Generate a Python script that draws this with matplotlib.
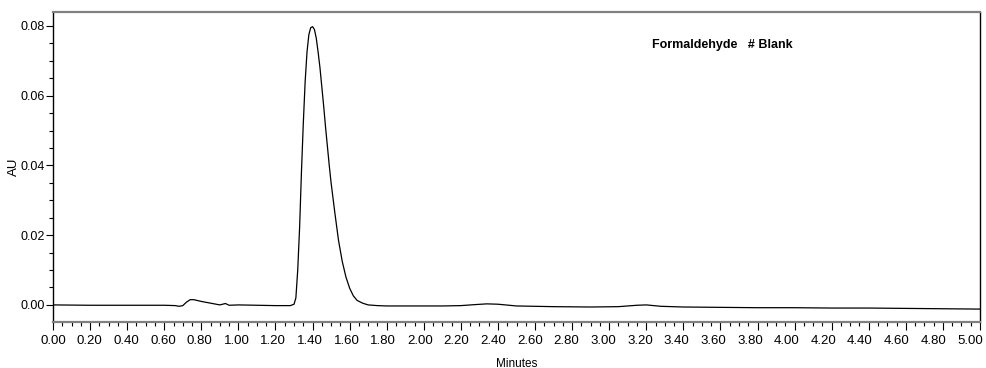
import matplotlib
matplotlib.use("Agg")
import matplotlib.pyplot as plt
from matplotlib.ticker import MultipleLocator, FormatStrFormatter
from matplotlib.transforms import ScaledTranslation
from matplotlib import font_manager

plt.rcParams['font.family'] = ['Liberation Sans', 'DejaVu Sans']
names = {f.name for f in font_manager.fontManager.ttflist}
narrow = ['Liberation Sans Narrow', 'Liberation Sans', 'DejaVu Sans'] if 'Liberation Sans Narrow' in names \
    else ['Liberation Sans', 'DejaVu Sans']

# Chromatogram trace (minutes, AU)
time_min = [0.00, 0.20, 0.40, 0.60, 0.66, 0.68, 0.70, 0.72, 0.74, 0.76, 0.80, 0.85,
            0.90, 0.93, 0.95, 1.00, 1.10, 1.20, 1.28, 1.30, 1.31, 1.32, 1.33, 1.34,
            1.35, 1.36, 1.37, 1.38, 1.39, 1.40, 1.41, 1.42, 1.43, 1.44, 1.45, 1.46,
            1.47, 1.48, 1.49, 1.50, 1.52, 1.54, 1.56, 1.58, 1.60, 1.62, 1.64, 1.67,
            1.70, 1.75, 1.80, 1.90, 2.00, 2.10, 2.20, 2.28, 2.34, 2.40, 2.50, 2.70,
            2.90, 3.05, 3.15, 3.20, 3.28, 3.40, 3.60, 3.80, 4.00, 4.20, 4.40, 4.60,
            4.80, 5.00]
absorbance = [0.0000, -0.0001, -0.0001, -0.0001, -0.0002, -0.0004, -0.0002, 0.0008, 0.0015, 0.0015, 0.0010, 0.0005,
              0.0000, 0.0004, -0.0001, 0.0000, -0.0001, -0.0002, -0.0002, 0.0002, 0.0020, 0.0100, 0.0220, 0.0380,
              0.0520, 0.0640, 0.0725, 0.0775, 0.0795, 0.0798, 0.0790, 0.0765, 0.0725, 0.0680, 0.0625, 0.0570,
              0.0510, 0.0455, 0.0400, 0.0350, 0.0265, 0.0185, 0.0125, 0.0080, 0.0048, 0.0026, 0.0013, 0.0005,
              0.0000, -0.0002, -0.0003, -0.0003, -0.0003, -0.0003, -0.0002, 0.0001, 0.0003, 0.0002, -0.0003, -0.0005,
              -0.0006, -0.0005, -0.0001, 0.0000, -0.0004, -0.0006, -0.0007, -0.0008, -0.0008, -0.0009, -0.0009, -0.0010,
              -0.0011, -0.0012]

title_text = "Formaldehyde   # Blank"
x_label = "Minutes"
y_label = "AU"

fig = plt.figure(figsize=(9.86, 3.68), dpi=100)
ax = fig.add_axes([53/986, 46/368, 927/986, 310/368])

ax.plot(time_min, absorbance, color='black', linewidth=0.9)

ax.set_xlim(0, 5.0)
ax.set_ylim(-0.0049, 0.0840)

ax.xaxis.set_major_locator(MultipleLocator(0.2))
ax.xaxis.set_minor_locator(MultipleLocator(0.05))
ax.xaxis.set_major_formatter(FormatStrFormatter('%.2f'))
ax.yaxis.set_major_locator(MultipleLocator(0.02))
ax.yaxis.set_minor_locator(MultipleLocator(0.005))
ax.yaxis.set_major_formatter(FormatStrFormatter('%.2f'))

ax.tick_params(axis='x', which='major', direction='out', length=6, width=0.8, pad=3)
ax.tick_params(axis='y', which='major', direction='out', length=5, width=0.8, pad=1)
ax.tick_params(axis='both', which='minor', direction='out', length=3, width=0.8)

for side in ['left', 'right']:
    ax.spines[side].set_color('black')
    ax.spines[side].set_linewidth(1.0)
for side in ['top', 'bottom']:
    ax.spines[side].set_color('#808080')
    ax.spines[side].set_linewidth(1.6)

ax.set_xlabel(x_label, fontsize=8.5, labelpad=8, family=narrow)
ax.set_ylabel(y_label, fontsize=9.5)
ax.yaxis.set_label_coords(-0.0356, 0.50)

ax.text(0.7217, 0.893, title_text, transform=ax.transAxes, ha='center', va='center',
        fontsize=9, fontweight='bold', family=narrow)

fig.canvas.draw()
for lab in ax.get_yticklabels():
    lab.set_fontsize(9)
for tick in ax.xaxis.get_major_ticks():
    lab = tick.label1
    lab.set_fontsize(9.5)
    lab.set_family(narrow)
    t = tick.get_loc()
    shift = -10.0 * (t / 5.0)
    lab.set_transform(lab.get_transform() + ScaledTranslation(shift / 100.0, 0, fig.dpi_scale_trans))

fig.savefig("out.png", dpi=100)
